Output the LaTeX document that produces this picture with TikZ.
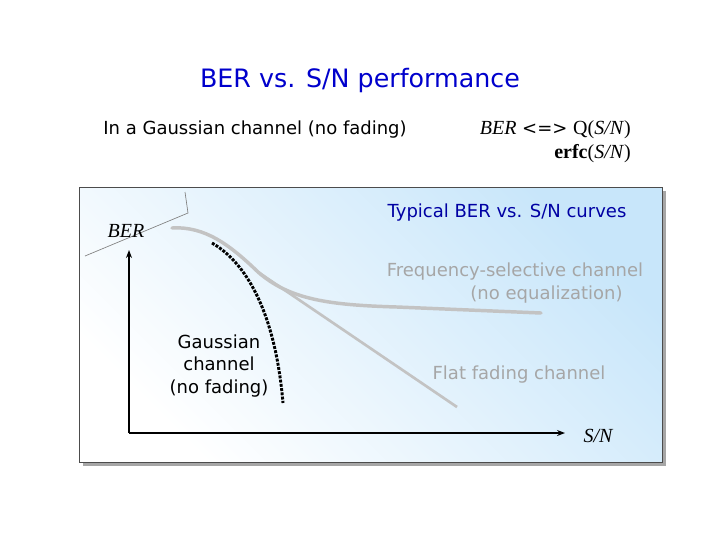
\documentclass[tikz,border=0pt]{standalone}
\usepackage{fontspec}
\setmainfont{DejaVu Sans}
\newfontfamily\serifit{Liberation Serif}
\usetikzlibrary{arrows.meta,shadows}
\definecolor{titleblue}{RGB}{0,0,204}
\definecolor{curvegray}{RGB}{195,195,195}
\definecolor{panelblue}{RGB}{200,230,250}
\tikzstyle{lbl} = [inner sep=0pt, font=\fontsize{13.5}{17}\selectfont, align=center]
\tikzstyle{curve} = [line width=2.6pt, color=curvegray, line cap=round]
\tikzstyle{axis} = [line width=1.3pt, -{Stealth[length=6pt]}]
\begin{document}
\begin{tikzpicture}[x=0.75pt, y=-0.75pt]
		\useasboundingbox (0,0) rectangle (720,540);
		
		\node (title) [lbl, font=\fontsize{19}{22}\selectfont, text=titleblue] at (360,81) {BER vs. S/N performance};
		\node (gauss_head) [lbl] at (255,130) {In a Gaussian channel (no fading)};
		\node (ber_q) [lbl, anchor=east] at (631,130) {{\serifit\itshape\fontsize{15}{17}\selectfont BER} <=> {\serifit\fontsize{15}{17}\selectfont Q(\itshape S/N\/\upshape)}};
		\node (erfc) [lbl, anchor=east] at (631,154) {\serifit\fontsize{15}{17}\selectfont\bfseries erfc\mdseries(\itshape S/N\/\upshape)};
		
		% panel with shadow
		\fill [gray!70] (83,191) rectangle (666,466);
		\shade [left color=white, right color=panelblue, shading angle=135] (79,187) rectangle (662,462);
		\draw [gray!60!black, line width=0.6pt] (79,187) rectangle (662,462);
		
		\draw [gray, line width=0.5pt] (85,256) -- (188,213) -- (185,192);
		\node (ber_axis) [lbl, font=\serifit\itshape\fontsize{15}{17}\selectfont] at (126,231) {BER};
		\node (sn_axis) [lbl, font=\serifit\itshape\fontsize{15}{17}\selectfont] at (598,436) {S/N};
		
		\coordinate (origin) at (129,433);
		\draw [axis] (origin) -- (129,250);
		\draw [axis] (origin) -- (565,433);
		
		\node (typical) [lbl, text=titleblue!80!black] at (507,213) {Typical BER vs. S/N curves};
		\node (freq_sel) [lbl, text=curvegray!85!black] at (515,283) {Frequency-selective channel\\\hspace*{3.5em}(no equalization)};
		\node (flat) [lbl, text=curvegray!85!black] at (519,375) {Flat fading channel};
		\node (gauss) [lbl] at (219,366) {Gaussian\\ channel\\(no fading)};
		
		\coordinate (split) at (258,272);
		\draw [line width=2pt, color=curvegray] (split) -- (457,407);
		\draw [curve] (172,228) .. controls (205,226) and (230,245) .. (split)
			.. controls (290,300) and (330,305) .. (397,307) -- (541,313);
		\draw [line width=2.2pt, densely dotted, black] (212,243) .. controls (245,262) and (275,310) .. (283,403);
		
\end{tikzpicture}
\end{document}
